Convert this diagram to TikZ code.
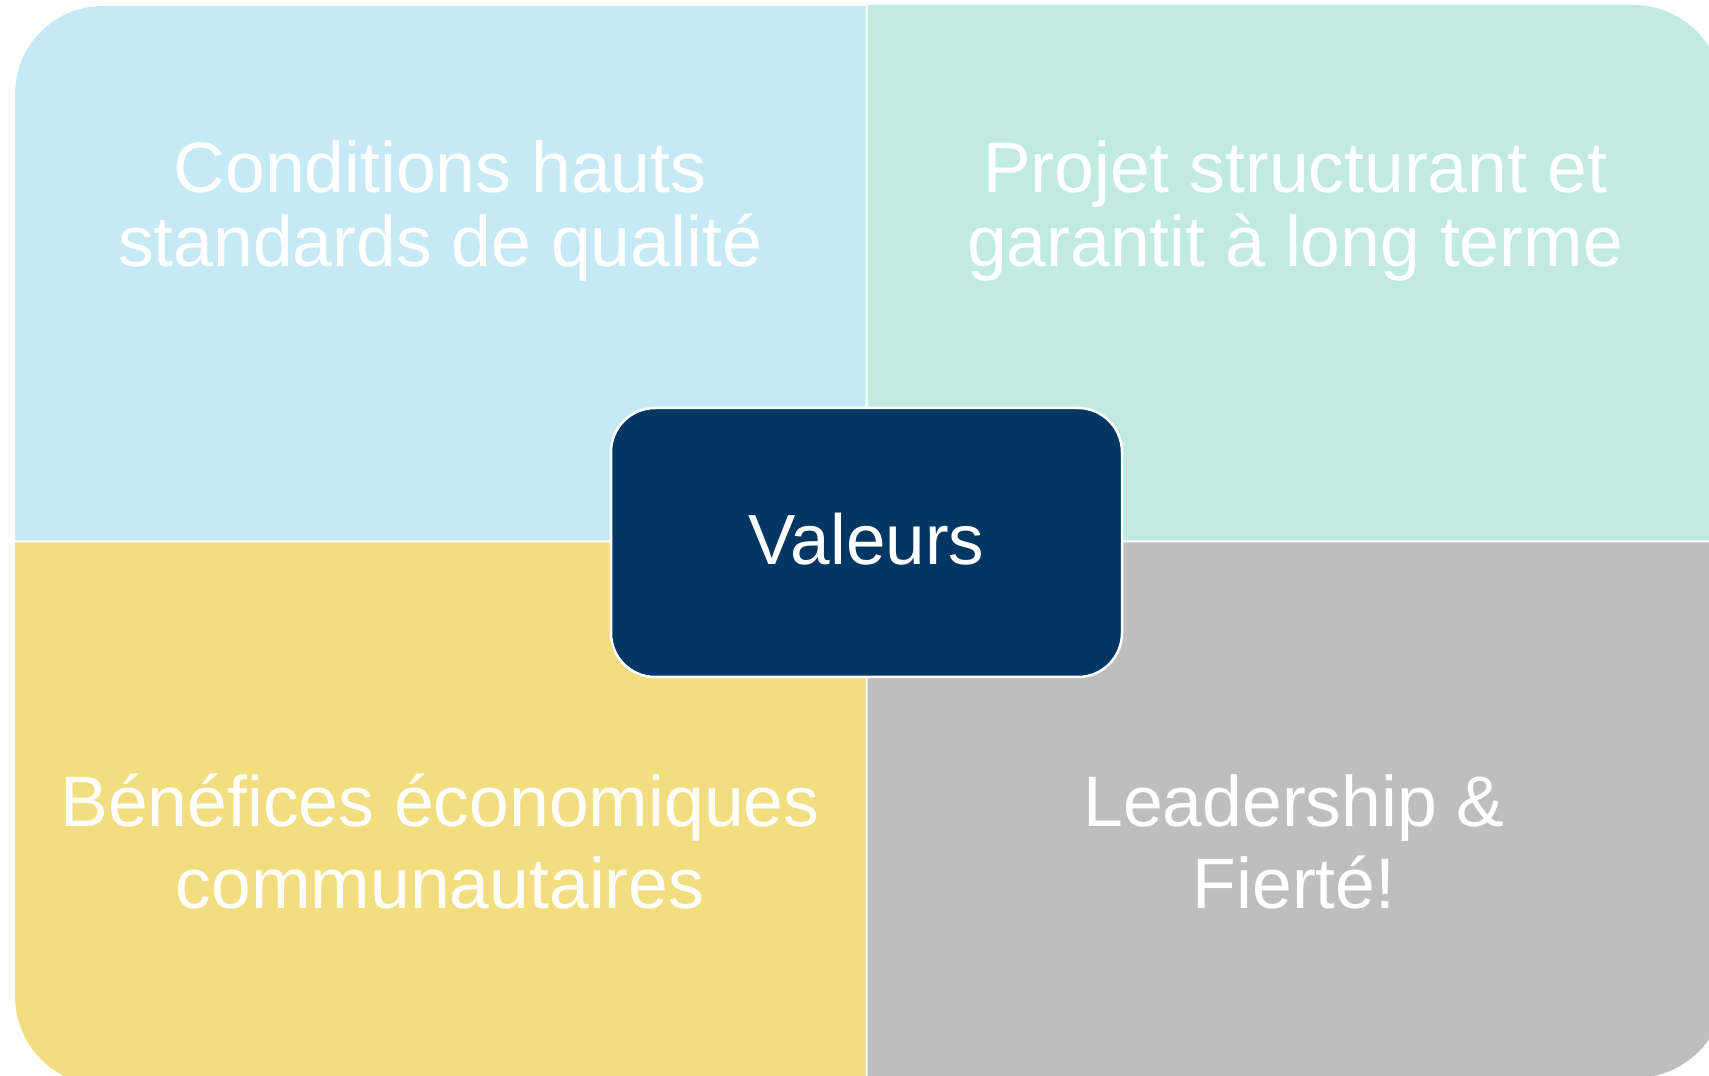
\documentclass[tikz,border=0pt]{standalone}
\usepackage{fontspec}
\setmainfont{Liberation Sans}
\definecolor{qblue}{RGB}{197,234,245}
\definecolor{qmint}{RGB}{193,235,225}
\definecolor{qyellow}{RGB}{243,222,127}
\definecolor{qgray}{RGB}{190,190,190}
\definecolor{qnavy}{RGB}{3,55,99}
\begin{document}
\begin{tikzpicture}[x=1pt,y=1pt,
  qtext/.style={text=white, inner sep=0pt, anchor=base, font=\fontsize{71.5}{73}\selectfont},
  valbox/.style={fill=qnavy, draw=white, line width=2.5pt, rounded corners=44pt,
    minimum width=511pt, minimum height=269pt, inner sep=0pt, text=white,
    text height=44pt, text depth=0pt, font=\fontsize{71}{73}\selectfont}]
\useasboundingbox (0,0) rectangle (1709,1076);
\clip (0,0) rectangle (1709,1076);
% quadrants
\fill[qblue] (15,535.5) -- (15,982) arc[start angle=180,end angle=90,radius=88pt]
  -- (865.5,1070) -- (865.5,535.5) -- cycle;
\fill[qmint] (867.5,535.5) -- (867.5,1071) -- (1633,1071)
  arc[start angle=90,end angle=0,radius=90pt] -- (1723,535.5) -- cycle;
\fill[qyellow] (15,533.5) -- (15,80) arc[start angle=180,end angle=270,radius=90pt]
  -- (865.5,-10) -- (865.5,533.5) -- cycle;
\fill[qgray] (867.5,533.5) -- (867.5,-2) -- (1635,-2)
  arc[start angle=270,end angle=360,radius=90pt] -- (1725,533.5) -- cycle;
% quadrant texts
\node[qtext] (tl1) at (440,883) {Conditions hauts};
\node[qtext] (tl2) at (440,809) {standards de qualité};
\node[qtext] (tr1) at (1295,883) {Projet structurant et};
\node[qtext] (tr2) at (1295,809) {garantit à long terme};
\node[qtext] (bl1) at (440,249) {Bénéfices économiques};
\node[qtext] (bl2) at (440,167) {communautaires};
\node[qtext] (br1) at (1294,249) {Leadership \&};
\node[qtext] (br2) at (1294,167) {Fierté!};
% centre
\node[valbox] (val) at (866.5,533.5) {Valeurs};
\end{tikzpicture}
\end{document}
